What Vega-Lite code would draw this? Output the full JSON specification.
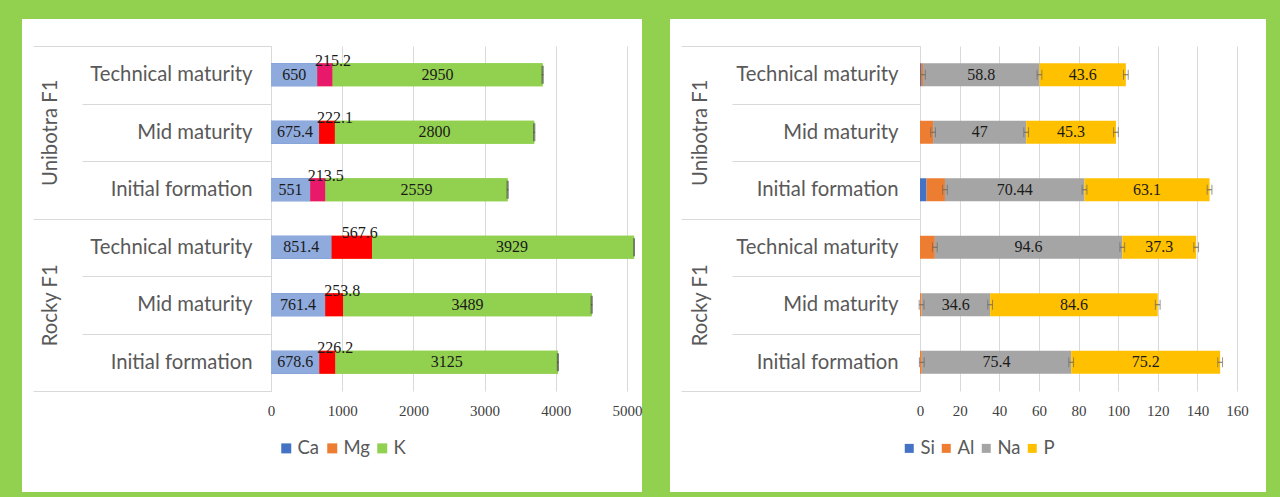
{
  "$schema": "https://vega.github.io/schema/vega-lite/v6.json",
  "background": "#92D050",
  "padding": {"left": 22, "top": 9, "right": 14, "bottom": 7},
  "autosize": {"type": "pad"},
  "config": {
    "view": {"fill": "white", "stroke": null},
    "axis": {"labelLimit": 400}
  },
  "spacing": 28,
  "resolve": {
    "scale": {"x": "independent", "y": "independent", "color": "independent"},
    "legend": {"color": "independent"}
  },
  "hconcat": [
    {
      "width": 620,
      "height": 473,
      "data": {
        "values": [
          {"variety": "Unibotra F1", "stage": "Technical maturity", "element": "Ca", "value": 650},
          {"variety": "Unibotra F1", "stage": "Technical maturity", "element": "Mg", "value": 215.2},
          {"variety": "Unibotra F1", "stage": "Technical maturity", "element": "K", "value": 2950, "err": 8},
          {"variety": "Unibotra F1", "stage": "Mid maturity", "element": "Ca", "value": 675.4},
          {"variety": "Unibotra F1", "stage": "Mid maturity", "element": "Mg", "value": 222.1},
          {"variety": "Unibotra F1", "stage": "Mid maturity", "element": "K", "value": 2800, "err": 8},
          {"variety": "Unibotra F1", "stage": "Initial formation", "element": "Ca", "value": 551},
          {"variety": "Unibotra F1", "stage": "Initial formation", "element": "Mg", "value": 213.5},
          {"variety": "Unibotra F1", "stage": "Initial formation", "element": "K", "value": 2559, "err": 8},
          {"variety": "Rocky F1", "stage": "Technical maturity", "element": "Ca", "value": 851.4},
          {"variety": "Rocky F1", "stage": "Technical maturity", "element": "Mg", "value": 567.6},
          {"variety": "Rocky F1", "stage": "Technical maturity", "element": "K", "value": 3929, "err": 8},
          {"variety": "Rocky F1", "stage": "Mid maturity", "element": "Ca", "value": 761.4},
          {"variety": "Rocky F1", "stage": "Mid maturity", "element": "Mg", "value": 253.8},
          {"variety": "Rocky F1", "stage": "Mid maturity", "element": "K", "value": 3489, "err": 8},
          {"variety": "Rocky F1", "stage": "Initial formation", "element": "Ca", "value": 678.6},
          {"variety": "Rocky F1", "stage": "Initial formation", "element": "Mg", "value": 226.2},
          {"variety": "Rocky F1", "stage": "Initial formation", "element": "K", "value": 3125, "err": 8}
        ]
      },
      "transform": [
        {"window": [{"op": "row_number", "as": "rank"}], "groupby": ["variety", "stage"]}
      ],
      "resolve": {"scale": {"y": "independent"}},
      "layer": [
        {
          "mark": {"type": "tick", "opacity": 0},
          "encoding": {
            "x": {
              "field": "value", "type": "quantitative",
              "scale": {"domain": [0, 5100], "range": [249, 612.1], "clamp": true, "nice": false, "zero": false},
              "axis": {"orient": "bottom", "offset": -101, "title": null, "values": [0, 1000, 2000, 3000, 4000, 5000], "format": "d",
                       "grid": true, "gridColor": "#D9D9D9", "gridWidth": 1, "ticks": false, "domain": false, "zindex": 0,
                       "labelFont": "Liberation Serif", "labelFontSize": 15, "labelColor": "#404040", "labelPadding": 12,
                       "labelFlush": false, "labelOverlap": false}
            },
            "y": {
              "field": "variety", "type": "nominal", "sort": ["Unibotra F1", "Rocky F1"],
              "scale": {"range": [101, 446], "paddingInner": 0, "paddingOuter": 0},
              "axis": null
            }
          }
        },
        {
          "mark": {"type": "tick", "opacity": 0},
          "encoding": {
            "x": {"field": "value", "type": "quantitative"},
            "y": {
              "field": "variety", "type": "nominal", "sort": ["Unibotra F1", "Rocky F1"],
              "scale": {"range": [27, 372], "paddingInner": 0, "paddingOuter": 0},
              "axis": {"orient": "left", "offset": -249, "title": null, "domain": false, "grid": false,
                       "tickBand": "extent", "tickSize": 238, "tickColor": "#D9D9D9", "tickWidth": 1,
                       "labelAngle": -90, "labelAlign": "center", "labelBaseline": "middle", "labelPadding": -17,
                       "labelFont": "Lato", "labelFontSize": 20.3, "labelColor": "#595959"}
            }
          }
        },
        {
          "transform": [{"filter": {"field": "variety", "equal": "Unibotra F1"}}],
          "encoding": {
            "y": {
              "field": "stage", "type": "nominal", "sort": ["Technical maturity", "Mid maturity", "Initial formation"],
              "scale": {"range": [27, 199.5], "paddingInner": 0, "paddingOuter": 0},
              "axis": {"orient": "left", "offset": -249, "title": null, "domain": false, "grid": false,
                       "tickBand": "extent", "tickSize": 189, "tickColor": "#D9D9D9", "tickWidth": 1,
                       "labelAlign": "right", "labelBaseline": "middle", "labelPadding": -170,
                       "labelFont": "Lato", "labelFontSize": 20.3, "labelColor": "#595959"}
            }
          },
          "layer": [
            {
              "mark": {"type": "bar", "height": {"band": 0.4}},
              "encoding": {
                "x": {"field": "value", "type": "quantitative", "stack": "zero"},
                "order": {"field": "rank", "type": "quantitative"},
                "color": {
                  "field": "element", "type": "nominal",
                  "scale": {"domain": ["Ca", "Mg", "K"], "range": ["#4472C4", "#ED7D31", "#92D050"]},
                  "legend": {"orient": "none", "legendX": 255, "legendY": 420, "direction": "horizontal", "title": null,
                             "symbolType": "square", "symbolSize": 100, "symbolStrokeWidth": 0,
                             "labelFont": "Lato", "labelFontSize": 18.5, "labelColor": "#595959", "labelOffset": 2,
                             "columnPadding": 3, "padding": 0}
                }
              }
            },
            {
              "mark": {"type": "bar", "height": {"band": 0.4}},
              "encoding": {
                "x": {"field": "value", "type": "quantitative", "stack": "zero"},
                "order": {"field": "rank", "type": "quantitative"},
                "detail": {"field": "element", "type": "nominal"},
                "color": {
                  "condition": [
                    {"test": "datum.element === 'Ca'", "value": "#8FAADC"},
                    {"test": "datum.element === 'Mg' && datum.stage !== 'Mid maturity'", "value": "#E8186A"},
                    {"test": "datum.element === 'Mg'", "value": "#FF0000"}
                  ],
                  "value": "#92D050"
                }
              }
            },
            {
              "mark": {"type": "text", "font": "Liberation Serif", "fontSize": 16, "color": "#1A1A1A"},
              "encoding": {
                "x": {"field": "value", "type": "quantitative", "stack": "zero", "bandPosition": 0.5},
                "order": {"field": "rank", "type": "quantitative"},
                "detail": {"field": "element", "type": "nominal"},
                "text": {"field": "value", "type": "quantitative"},
                "opacity": {"condition": {"test": "datum.element === 'Mg'", "value": 0}, "value": 1}
              }
            },
            {
              "mark": {"type": "text", "font": "Liberation Serif", "fontSize": 16, "color": "#1A1A1A", "dx": 8, "dy": -14},
              "encoding": {
                "x": {"field": "value", "type": "quantitative", "stack": "zero", "bandPosition": 0.5},
                "order": {"field": "rank", "type": "quantitative"},
                "detail": {"field": "element", "type": "nominal"},
                "text": {"field": "value", "type": "quantitative"},
                "opacity": {"condition": {"test": "datum.element === 'Mg'", "value": 1}, "value": 0}
              }
            },
            {
              "transform": [
                {"stack": "value", "groupby": ["variety", "stage"], "sort": [{"field": "rank", "order": "ascending"}], "as": ["v0", "v1"]},
                {"filter": "isValid(datum.err)"}
              ],
              "mark": {"type": "errorbar", "ticks": {"size": 18, "thickness": 1, "color": "#404040"}, "rule": {"color": "#404040", "strokeWidth": 1}},
              "encoding": {
                "x": {"field": "v1", "type": "quantitative"},
                "xError": {"field": "err"}
              }
            }
          ]
        },
        {
          "transform": [{"filter": {"field": "variety", "equal": "Rocky F1"}}],
          "encoding": {
            "y": {
              "field": "stage", "type": "nominal", "sort": ["Technical maturity", "Mid maturity", "Initial formation"],
              "scale": {"range": [199.5, 372], "paddingInner": 0, "paddingOuter": 0},
              "axis": {"orient": "left", "offset": -249, "title": null, "domain": false, "grid": false,
                       "tickBand": "extent", "tickSize": 189, "tickColor": "#D9D9D9", "tickWidth": 1,
                       "labelAlign": "right", "labelBaseline": "middle", "labelPadding": -170,
                       "labelFont": "Lato", "labelFontSize": 20.3, "labelColor": "#595959"}
            }
          },
          "layer": [
            {
              "mark": {"type": "bar", "height": {"band": 0.4}},
              "encoding": {
                "x": {"field": "value", "type": "quantitative", "stack": "zero"},
                "order": {"field": "rank", "type": "quantitative"},
                "color": {
                  "field": "element", "type": "nominal",
                  "scale": {"domain": ["Ca", "Mg", "K"], "range": ["#4472C4", "#ED7D31", "#92D050"]},
                  "legend": {"orient": "none", "legendX": 255, "legendY": 420, "direction": "horizontal", "title": null,
                             "symbolType": "square", "symbolSize": 100, "symbolStrokeWidth": 0,
                             "labelFont": "Lato", "labelFontSize": 18.5, "labelColor": "#595959", "labelOffset": 2,
                             "columnPadding": 3, "padding": 0}
                }
              }
            },
            {
              "mark": {"type": "bar", "height": {"band": 0.4}},
              "encoding": {
                "x": {"field": "value", "type": "quantitative", "stack": "zero"},
                "order": {"field": "rank", "type": "quantitative"},
                "detail": {"field": "element", "type": "nominal"},
                "color": {
                  "condition": [
                    {"test": "datum.element === 'Ca'", "value": "#8FAADC"},
                    {"test": "datum.element === 'Mg'", "value": "#FF0000"}
                  ],
                  "value": "#92D050"
                }
              }
            },
            {
              "mark": {"type": "text", "font": "Liberation Serif", "fontSize": 16, "color": "#1A1A1A"},
              "encoding": {
                "x": {"field": "value", "type": "quantitative", "stack": "zero", "bandPosition": 0.5},
                "order": {"field": "rank", "type": "quantitative"},
                "detail": {"field": "element", "type": "nominal"},
                "text": {"field": "value", "type": "quantitative"},
                "opacity": {"condition": {"test": "datum.element === 'Mg'", "value": 0}, "value": 1}
              }
            },
            {
              "mark": {"type": "text", "font": "Liberation Serif", "fontSize": 16, "color": "#1A1A1A", "dx": 8, "dy": -14},
              "encoding": {
                "x": {"field": "value", "type": "quantitative", "stack": "zero", "bandPosition": 0.5},
                "order": {"field": "rank", "type": "quantitative"},
                "detail": {"field": "element", "type": "nominal"},
                "text": {"field": "value", "type": "quantitative"},
                "opacity": {"condition": {"test": "datum.element === 'Mg'", "value": 1}, "value": 0}
              }
            },
            {
              "transform": [
                {"stack": "value", "groupby": ["variety", "stage"], "sort": [{"field": "rank", "order": "ascending"}], "as": ["v0", "v1"]},
                {"filter": "isValid(datum.err)"}
              ],
              "mark": {"type": "errorbar", "ticks": {"size": 18, "thickness": 1, "color": "#404040"}, "rule": {"color": "#404040", "strokeWidth": 1}},
              "encoding": {
                "x": {"field": "v1", "type": "quantitative"},
                "xError": {"field": "err"}
              }
            }
          ]
        }
      ]
    },
    {
      "width": 596,
      "height": 473,
      "data": {
        "values": [
          {"variety": "Unibotra F1", "stage": "Technical maturity", "element": "Si", "value": 0.5},
          {"variety": "Unibotra F1", "stage": "Technical maturity", "element": "Al", "value": 1.0, "err": 1.2},
          {"variety": "Unibotra F1", "stage": "Technical maturity", "element": "Na", "value": 58.8, "err": 1.2},
          {"variety": "Unibotra F1", "stage": "Technical maturity", "element": "P", "value": 43.6, "err": 1.2},
          {"variety": "Unibotra F1", "stage": "Mid maturity", "element": "Al", "value": 6.6, "err": 1.2},
          {"variety": "Unibotra F1", "stage": "Mid maturity", "element": "Na", "value": 47, "err": 1.2},
          {"variety": "Unibotra F1", "stage": "Mid maturity", "element": "P", "value": 45.3, "err": 1.2},
          {"variety": "Unibotra F1", "stage": "Initial formation", "element": "Si", "value": 3.3},
          {"variety": "Unibotra F1", "stage": "Initial formation", "element": "Al", "value": 9.3, "err": 1.2},
          {"variety": "Unibotra F1", "stage": "Initial formation", "element": "Na", "value": 70.44, "err": 1.2},
          {"variety": "Unibotra F1", "stage": "Initial formation", "element": "P", "value": 63.1, "err": 1.2},
          {"variety": "Rocky F1", "stage": "Technical maturity", "element": "Al", "value": 7.5, "err": 1.2},
          {"variety": "Rocky F1", "stage": "Technical maturity", "element": "Na", "value": 94.6, "err": 1.2},
          {"variety": "Rocky F1", "stage": "Technical maturity", "element": "P", "value": 37.3, "err": 1.2},
          {"variety": "Rocky F1", "stage": "Mid maturity", "element": "Al", "value": 0.8, "err": 1.2},
          {"variety": "Rocky F1", "stage": "Mid maturity", "element": "Na", "value": 34.6, "err": 1.2},
          {"variety": "Rocky F1", "stage": "Mid maturity", "element": "P", "value": 84.6, "err": 1.2},
          {"variety": "Rocky F1", "stage": "Initial formation", "element": "Al", "value": 0.9, "err": 1.2},
          {"variety": "Rocky F1", "stage": "Initial formation", "element": "Na", "value": 75.4, "err": 1.2},
          {"variety": "Rocky F1", "stage": "Initial formation", "element": "P", "value": 75.2, "err": 1.2}
        ]
      },
      "transform": [
        {"window": [{"op": "row_number", "as": "rank"}], "groupby": ["variety", "stage"]}
      ],
      "resolve": {"scale": {"y": "independent"}},
      "layer": [
        {
          "mark": {"type": "tick", "opacity": 0},
          "encoding": {
            "x": {
              "field": "value", "type": "quantitative",
              "scale": {"domain": [0, 160], "range": [250, 567], "nice": false, "zero": false},
              "axis": {"orient": "bottom", "offset": -101, "title": null, "values": [0, 20, 40, 60, 80, 100, 120, 140, 160], "format": "d",
                       "grid": true, "gridColor": "#D9D9D9", "gridWidth": 1, "ticks": false, "domain": false, "zindex": 0,
                       "labelFont": "Liberation Serif", "labelFontSize": 15, "labelColor": "#404040", "labelPadding": 12,
                       "labelFlush": false, "labelOverlap": false}
            },
            "y": {
              "field": "variety", "type": "nominal", "sort": ["Unibotra F1", "Rocky F1"],
              "scale": {"range": [101, 446], "paddingInner": 0, "paddingOuter": 0},
              "axis": null
            }
          }
        },
        {
          "mark": {"type": "tick", "opacity": 0},
          "encoding": {
            "x": {"field": "value", "type": "quantitative"},
            "y": {
              "field": "variety", "type": "nominal", "sort": ["Unibotra F1", "Rocky F1"],
              "scale": {"range": [27, 372], "paddingInner": 0, "paddingOuter": 0},
              "axis": {"orient": "left", "offset": -250, "title": null, "domain": false, "grid": false,
                       "tickBand": "extent", "tickSize": 239, "tickColor": "#D9D9D9", "tickWidth": 1,
                       "labelAngle": -90, "labelAlign": "center", "labelBaseline": "middle", "labelPadding": -19,
                       "labelFont": "Lato", "labelFontSize": 20.3, "labelColor": "#595959"}
            }
          }
        },
        {
          "transform": [{"filter": {"field": "variety", "equal": "Unibotra F1"}}],
          "encoding": {
            "y": {
              "field": "stage", "type": "nominal", "sort": ["Technical maturity", "Mid maturity", "Initial formation"],
              "scale": {"range": [27, 199.5], "paddingInner": 0, "paddingOuter": 0},
              "axis": {"orient": "left", "offset": -250, "title": null, "domain": false, "grid": false,
                       "tickBand": "extent", "tickSize": 188, "tickColor": "#D9D9D9", "tickWidth": 1,
                       "labelAlign": "right", "labelBaseline": "middle", "labelPadding": -166,
                       "labelFont": "Lato", "labelFontSize": 20.3, "labelColor": "#595959"}
            }
          },
          "layer": [
            {
              "mark": {"type": "bar", "height": {"band": 0.4}},
              "encoding": {
                "x": {"field": "value", "type": "quantitative", "stack": "zero"},
                "order": {"field": "rank", "type": "quantitative"},
                "color": {
                  "field": "element", "type": "nominal",
                  "scale": {"domain": ["Si", "Al", "Na", "P"], "range": ["#4472C4", "#ED7D31", "#A5A5A5", "#FFC000"]},
                  "legend": {"orient": "none", "legendX": 230, "legendY": 420, "direction": "horizontal", "title": null,
                             "symbolType": "square", "symbolSize": 81, "symbolStrokeWidth": 0,
                             "labelFont": "Lato", "labelFontSize": 18.5, "labelColor": "#595959", "labelOffset": 2,
                             "columnPadding": 2, "padding": 0}
                }
              }
            },
            {
              "mark": {"type": "text", "font": "Liberation Serif", "fontSize": 16, "color": "#1A1A1A"},
              "encoding": {
                "x": {"field": "value", "type": "quantitative", "stack": "zero", "bandPosition": 0.5},
                "order": {"field": "rank", "type": "quantitative"},
                "detail": {"field": "element", "type": "nominal"},
                "text": {"field": "value", "type": "quantitative"},
                "opacity": {"condition": {"test": "datum.element === 'Na' || datum.element === 'P'", "value": 1}, "value": 0}
              }
            },
            {
              "transform": [
                {"stack": "value", "groupby": ["variety", "stage"], "sort": [{"field": "rank", "order": "ascending"}], "as": ["v0", "v1"]},
                {"filter": "isValid(datum.err)"}
              ],
              "mark": {"type": "errorbar", "ticks": {"size": 10, "thickness": 1, "color": "#6F6A5E"}, "rule": {"color": "#6F6A5E", "strokeWidth": 1}},
              "encoding": {
                "x": {"field": "v1", "type": "quantitative"},
                "xError": {"field": "err"}
              }
            }
          ]
        },
        {
          "transform": [{"filter": {"field": "variety", "equal": "Rocky F1"}}],
          "encoding": {
            "y": {
              "field": "stage", "type": "nominal", "sort": ["Technical maturity", "Mid maturity", "Initial formation"],
              "scale": {"range": [199.5, 372], "paddingInner": 0, "paddingOuter": 0},
              "axis": {"orient": "left", "offset": -250, "title": null, "domain": false, "grid": false,
                       "tickBand": "extent", "tickSize": 188, "tickColor": "#D9D9D9", "tickWidth": 1,
                       "labelAlign": "right", "labelBaseline": "middle", "labelPadding": -166,
                       "labelFont": "Lato", "labelFontSize": 20.3, "labelColor": "#595959"}
            }
          },
          "layer": [
            {
              "mark": {"type": "bar", "height": {"band": 0.4}},
              "encoding": {
                "x": {"field": "value", "type": "quantitative", "stack": "zero"},
                "order": {"field": "rank", "type": "quantitative"},
                "color": {
                  "field": "element", "type": "nominal",
                  "scale": {"domain": ["Si", "Al", "Na", "P"], "range": ["#4472C4", "#ED7D31", "#A5A5A5", "#FFC000"]},
                  "legend": {"orient": "none", "legendX": 230, "legendY": 420, "direction": "horizontal", "title": null,
                             "symbolType": "square", "symbolSize": 81, "symbolStrokeWidth": 0,
                             "labelFont": "Lato", "labelFontSize": 18.5, "labelColor": "#595959", "labelOffset": 2,
                             "columnPadding": 2, "padding": 0}
                }
              }
            },
            {
              "mark": {"type": "text", "font": "Liberation Serif", "fontSize": 16, "color": "#1A1A1A"},
              "encoding": {
                "x": {"field": "value", "type": "quantitative", "stack": "zero", "bandPosition": 0.5},
                "order": {"field": "rank", "type": "quantitative"},
                "detail": {"field": "element", "type": "nominal"},
                "text": {"field": "value", "type": "quantitative"},
                "opacity": {"condition": {"test": "datum.element === 'Na' || datum.element === 'P'", "value": 1}, "value": 0}
              }
            },
            {
              "transform": [
                {"stack": "value", "groupby": ["variety", "stage"], "sort": [{"field": "rank", "order": "ascending"}], "as": ["v0", "v1"]},
                {"filter": "isValid(datum.err)"}
              ],
              "mark": {"type": "errorbar", "ticks": {"size": 10, "thickness": 1, "color": "#6F6A5E"}, "rule": {"color": "#6F6A5E", "strokeWidth": 1}},
              "encoding": {
                "x": {"field": "v1", "type": "quantitative"},
                "xError": {"field": "err"}
              }
            }
          ]
        }
      ]
    }
  ]
}
